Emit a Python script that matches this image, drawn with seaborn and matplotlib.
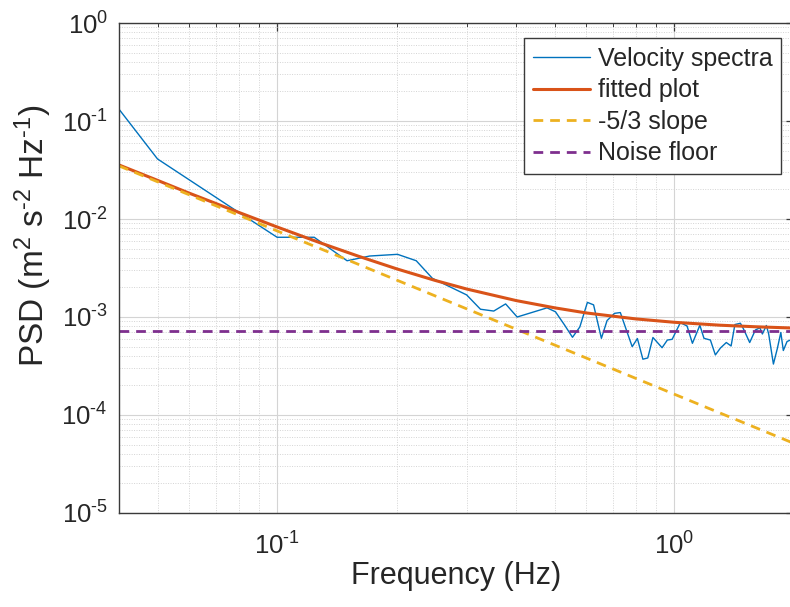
import matplotlib
matplotlib.use("Agg")
import matplotlib.pyplot as plt
from matplotlib.ticker import LogLocator, NullFormatter, FuncFormatter
import numpy as np
import pandas as pd
import seaborn as sns

# ---------------- data ----------------
spec_freq = [0.040, 0.050, 0.075, 0.100, 0.124, 0.150, 0.171, 0.201, 0.224, 0.246,
             0.300, 0.325, 0.351, 0.376, 0.402, 0.478, 0.502, 0.529, 0.554, 0.578,
             0.604, 0.626, 0.655, 0.677, 0.707, 0.731, 0.757, 0.783, 0.807, 0.833,
             0.857, 0.883, 0.931, 0.960, 0.987, 1.035, 1.076, 1.110, 1.159, 1.187,
             1.232, 1.268, 1.306, 1.351, 1.389, 1.420, 1.466, 1.494, 1.547, 1.599,
             1.641, 1.665, 1.704, 1.727, 1.775, 1.816, 1.853, 1.880, 1.921, 1.958, 2.000]
spec_psd = [0.132, 0.0410, 0.0139, 0.00651, 0.00651, 0.00375, 0.00419, 0.00436, 0.00375, 0.00248,
            0.00168, 0.00120, 0.00115, 0.00136, 0.00100, 0.00124, 0.00113, 0.000829, 0.000621, 0.000791,
            0.00141, 0.00133, 0.000606, 0.000921, 0.00109, 0.00111, 0.000737, 0.000498, 0.000603, 0.000371,
            0.000382, 0.000618, 0.000486, 0.000582, 0.000592, 0.000875, 0.000810, 0.000539, 0.000823, 0.000606,
            0.000582, 0.000410, 0.000483, 0.000549, 0.000506, 0.000838, 0.000863, 0.000749, 0.000549, 0.000737,
            0.000776, 0.000671, 0.000819, 0.000671, 0.000331, 0.000477, 0.000695, 0.000455, 0.000562, 0.000582, 0.000580]

fit_freq = [0.04, 0.05, 0.06, 0.08, 0.10, 0.13, 0.16, 0.20, 0.25, 0.30,
            0.40, 0.50, 0.60, 0.80, 1.00, 1.30, 1.60, 2.00]
fit_psd = [0.0356, 0.0248, 0.0184, 0.0117, 0.00829, 0.00561, 0.00418, 0.00310, 0.00236, 0.00193,
           0.00147, 0.00124, 0.00110, 0.000956, 0.000883, 0.000825, 0.000795, 0.000771]

slope_freq = [0.04, 2.0]
slope_psd = [0.0348, 5.13e-5]

noise_freq = [0.04, 2.0]
noise_psd = [7.2e-4, 7.2e-4]

labels = ["Velocity spectra", "fitted plot", "-5/3 slope", "Noise floor"]

# ---------------- style ----------------
sns.set_theme(style="white")
plt.rcParams["font.family"] = ["Liberation Sans", "DejaVu Sans"]
plt.rcParams["mathtext.fontset"] = "custom"
plt.rcParams["mathtext.rm"] = "Liberation Sans"
plt.rcParams["mathtext.it"] = "Liberation Sans:italic"
plt.rcParams["mathtext.bf"] = "Liberation Sans:bold"
plt.rcParams["axes.unicode_minus"] = False
plt.rcParams["text.color"] = "#262626"

fig = plt.figure(figsize=(7.9, 6.07), dpi=100)
ax = fig.add_axes([119 / 790, 94 / 607, 675 / 790, 490 / 607])

sns.lineplot(x=spec_freq, y=spec_psd, ax=ax, color="#0072BD", lw=1.0,
             label=labels[0], estimator=None)
sns.lineplot(x=fit_freq, y=fit_psd, ax=ax, color="#D95319", lw=2.2,
             label=labels[1], estimator=None)
sns.lineplot(x=slope_freq, y=slope_psd, ax=ax, color="#EDB120", lw=2.0,
             label=labels[2], estimator=None, linestyle=(0, (3.5, 2.5)))
sns.lineplot(x=noise_freq, y=noise_psd, ax=ax, color="#7E2F8E", lw=2.0,
             label=labels[3], estimator=None, linestyle=(0, (3.5, 2.5)))

ax.set_xscale("log")
ax.set_yscale("log")
ax.set_xlim(0.04, 2.0)
ax.set_ylim(1e-5, 1)


def pow10(v, pos):
    e = int(round(np.log10(v)))
    return r"$\mathregular{10}^{\text{%d}}$" % e


ax.xaxis.set_major_locator(LogLocator(base=10, numticks=10))
ax.xaxis.set_minor_locator(LogLocator(base=10, subs=np.arange(2, 10), numticks=20))
ax.yaxis.set_major_locator(LogLocator(base=10, numticks=10))
ax.yaxis.set_minor_locator(LogLocator(base=10, subs=np.arange(2, 10), numticks=20))
ax.xaxis.set_major_formatter(FuncFormatter(pow10))
ax.yaxis.set_major_formatter(FuncFormatter(pow10))
ax.xaxis.set_minor_formatter(NullFormatter())
ax.yaxis.set_minor_formatter(NullFormatter())

ax.grid(which="major", color="#d4d4d4", lw=0.8, ls="-")
ax.grid(which="minor", color="#d4d4d4", lw=0.7, ls=(0, (1, 1.5)))
ax.set_axisbelow(True)

for s in ax.spines.values():
    s.set_color("#3a3a3a")
    s.set_linewidth(1.0)

ax.tick_params(which="both", direction="in", top=True, right=True,
               colors="#3a3a3a", labelcolor="#262626", labelsize=18.5)
ax.tick_params(which="major", length=6, width=0.9)
ax.tick_params(which="minor", length=3, width=0.7)
ax.tick_params(axis="x", pad=14)
ax.tick_params(axis="y", pad=8)

ax.set_xlabel("Frequency (Hz)", fontsize=22, labelpad=1)
ax.set_ylabel(r"PSD (m$^{\text{2}}$ s$^{\text{-2}}$ Hz$^{\text{-1}}$)", fontsize=24)
ax.yaxis.set_label_coords(-0.097, 0.565)

leg = ax.legend(loc="upper right", bbox_to_anchor=(781 / 790, 1 - 38 / 607),
                bbox_transform=fig.transFigure, borderaxespad=0, fontsize=18,
                frameon=True, fancybox=False, handlelength=2.3, handletextpad=0.3,
                labelspacing=0.3, borderpad=0.35)
leg.get_frame().set_edgecolor("#3a3a3a")
leg.get_frame().set_linewidth(1.0)
leg.get_frame().set_facecolor("white")
leg.get_frame().set_alpha(1.0)

fig.savefig("out.png", dpi=100)
